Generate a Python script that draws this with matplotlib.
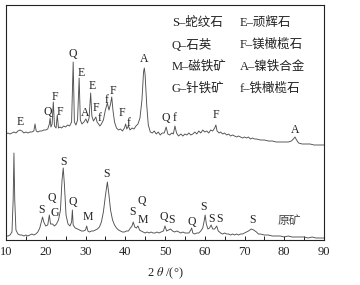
import matplotlib
matplotlib.use('Agg')
import matplotlib.pyplot as plt
from matplotlib.ticker import MultipleLocator

plt.rcParams['font.family'] = ['Liberation Serif', 'Noto Sans CJK SC']
plt.rcParams['mathtext.fontset'] = 'stix'

# 还原焙烧产物 (2θ, 强度)
prod_pattern = [
    (10.0, 106), (10.5, 107), (11.0, 106), (11.5, 107), (12.0, 108), (12.5, 107),
    (13.0, 109), (13.5, 110), (14.0, 109), (14.5, 107), (15.0, 108), (15.5, 107),
    (16.0, 108), (16.5, 108), (17.0, 109), (17.3, 116), (17.6, 109), (18.0, 108),
    (18.5, 109), (19.0, 109), (19.5, 110), (20.0, 110), (20.5, 111), (20.9, 116),
    (21.1, 122), (21.3, 113), (21.6, 116), (21.9, 138), (22.2, 114), (22.6, 112),
    (22.9, 125), (23.2, 112), (23.6, 113), (24.0, 112), (24.5, 114), (25.0, 113),
    (25.5, 115), (26.0, 114), (26.5, 118), (26.9, 178), (27.2, 118), (27.6, 115),
    (28.0, 120), (28.4, 162), (28.7, 120), (29.1, 116), (29.6, 118), (30.1, 121),
    (30.5, 117), (30.9, 122), (31.3, 147), (31.6, 124), (32.0, 119), (32.3, 121),
    (32.6, 123), (32.9, 118), (33.3, 116), (33.6, 114), (34.0, 116), (34.5, 120),
    (35.0, 130), (35.5, 137), (35.9, 130), (36.3, 136), (36.6, 143), (36.9, 130),
    (37.3, 118), (37.8, 112), (38.3, 110), (38.8, 111), (39.3, 109), (39.8, 112),
    (40.1, 116), (40.4, 111), (40.8, 114), (41.2, 110), (41.7, 112), (42.2, 111),
    (42.7, 114), (43.2, 116), (43.7, 122), (44.2, 140), (44.6, 168), (44.8, 172),
    (45.0, 165), (45.4, 135), (45.8, 115), (46.3, 108), (46.8, 107), (47.3, 109),
    (47.8, 106), (48.3, 108), (48.8, 105), (49.3, 107), (49.8, 107), (50.3, 113),
    (50.7, 106), (51.2, 105), (51.7, 107), (52.1, 106), (52.5, 114), (52.9, 107),
    (53.4, 104), (54.0, 106), (54.5, 104), (55.0, 106), (55.5, 105), (56.0, 107),
    (56.5, 105), (57.0, 106), (57.5, 108), (58.0, 106), (58.5, 109), (59.0, 107),
    (59.5, 110), (60.0, 108), (60.5, 109), (61.0, 107), (61.5, 110), (62.0, 109),
    (62.5, 112), (62.8, 115), (63.1, 109), (63.6, 107), (64.0, 108), (64.5, 106),
    (65.0, 107), (65.5, 105), (66.0, 106), (66.5, 104), (67.0, 105), (67.5, 104),
    (68.0, 103), (68.5, 104), (69.0, 103), (69.5, 102), (70.0, 103), (70.5, 102),
    (71.0, 103), (71.5, 101), (72.0, 102), (72.5, 101), (73.0, 101), (74.0, 100),
    (75.0, 100), (76.0, 99), (77.0, 99), (78.0, 98), (79.0, 98), (80.0, 98),
    (81.0, 98), (81.8, 99), (82.3, 101), (82.7, 103), (83.1, 100), (83.6, 97),
    (84.5, 96), (85.5, 96), (86.5, 96), (87.5, 95), (88.5, 95), (90.0, 95),
]

# 原矿 (2θ, 强度)
ore_pattern = [
    (10.0, 4), (10.5, 4), (11.0, 5), (11.5, 8), (11.8, 40), (12.0, 87), (12.2, 40),
    (12.5, 10), (13.0, 6), (13.5, 5), (14.0, 5), (14.5, 4), (15.0, 5), (15.5, 4),
    (16.0, 5), (16.5, 6), (17.0, 5), (17.5, 6), (18.0, 8), (18.5, 12), (19.0, 20),
    (19.2, 23), (19.5, 18), (20.0, 14), (20.5, 15), (20.9, 25), (21.2, 16), (21.7, 16),
    (22.2, 14), (22.7, 16), (23.2, 20), (23.7, 30), (24.1, 60), (24.4, 72), (24.7, 55),
    (25.1, 25), (25.6, 16), (26.1, 14), (26.5, 18), (26.7, 30), (26.9, 15), (27.4, 12),
    (28.0, 11), (28.5, 10), (29.0, 9), (29.5, 9), (30.0, 10), (30.3, 14), (30.6, 9),
    (31.0, 8), (31.5, 9), (32.0, 9), (32.5, 10), (33.0, 11), (33.5, 13), (34.0, 18),
    (34.5, 28), (35.0, 44), (35.5, 58), (35.9, 45), (36.3, 30), (36.8, 20), (37.3, 15),
    (37.8, 12), (38.3, 10), (38.8, 9), (39.3, 8), (39.8, 8), (40.3, 9), (40.8, 9),
    (41.3, 12), (41.7, 14), (42.0, 18), (42.4, 13), (42.8, 12), (43.2, 14), (43.6, 10),
    (44.0, 9), (44.5, 8), (45.0, 7), (45.5, 8), (46.0, 7), (46.5, 8), (47.0, 7),
    (47.5, 7), (48.0, 8), (48.5, 7), (49.0, 8), (49.6, 9), (50.0, 14), (50.4, 9),
    (50.9, 10), (51.4, 11), (51.9, 9), (52.4, 8), (53.0, 9), (53.5, 8), (54.0, 7),
    (54.5, 8), (55.0, 7), (55.5, 7), (56.0, 7), (56.5, 10), (56.7, 12), (57.0, 7),
    (57.5, 6), (58.0, 7), (58.5, 7), (59.0, 9), (59.5, 12), (59.9, 20), (60.1, 25),
    (60.4, 16), (60.8, 11), (61.2, 12), (61.6, 15), (62.0, 11), (62.5, 11), (63.0, 14),
    (63.4, 9), (64.0, 7), (64.5, 6), (65.0, 7), (65.5, 6), (66.0, 6), (66.5, 5),
    (67.0, 6), (67.5, 5), (68.0, 6), (68.5, 5), (69.0, 6), (69.5, 6), (70.0, 7),
    (70.5, 8), (71.0, 9), (71.7, 11), (72.3, 10), (73.0, 8), (73.5, 6), (74.0, 6),
    (75.0, 5), (76.0, 5), (77.0, 4), (78.0, 4), (79.0, 4), (80.0, 3), (81.0, 4),
    (82.0, 3), (83.0, 3), (84.0, 3), (85.0, 3), (86.0, 2), (87.0, 3), (88.0, 2),
    (89.0, 2), (90.0, 2),
]

# 物相标注 (符号, 2θ, 高度)
prod_marks = [
    ('E', 13.7, 118), ('Q', 20.5, 128), ('F', 22.2, 143), ('F', 23.6, 128),
    ('Q', 26.9, 186), ('E', 28.9, 167), ('A', 29.9, 127), ('E', 31.6, 154),
    ('F', 32.6, 132), ('f', 33.5, 122), ('f', 35.3, 140), ('F', 36.8, 149),
    ('F', 39.1, 127), ('f', 40.8, 117), ('A', 44.7, 181), ('Q', 50.2, 122),
    ('f', 52.5, 122), ('F', 62.8, 125), ('A', 82.7, 110),
]
ore_marks = [
    ('S', 19.0, 30), ('Q', 21.5, 42), ('G', 22.2, 27), ('S', 24.4, 78),
    ('Q', 26.7, 38), ('M', 30.7, 23), ('S', 35.3, 66), ('S', 41.9, 28),
    ('Q', 44.1, 39), ('M', 44.4, 20), ('Q', 49.8, 23), ('S', 51.7, 20),
    ('Q', 56.7, 18), ('S', 59.8, 33), ('S', 61.7, 21), ('S', 63.8, 21),
    ('S', 72.1, 20),
]
ore_name = '原矿'

legend_left = ['S–蛇纹石', 'Q–石英', 'M–磁铁矿', 'G–针铁矿']
legend_right = ['E–顽辉石', 'F–镁橄榄石', 'A–镍铁合金', 'f–铁橄榄石']

fig = plt.figure(figsize=(3.6, 2.85), dpi=100)
ax = fig.add_axes([6 / 360, 1 - 240 / 285, 318 / 360, 235 / 285])

tt, inten = zip(*prod_pattern)
ax.plot(tt, inten, color='#505050', linewidth=0.65)
tt, inten = zip(*ore_pattern)
ax.plot(tt, inten, color='#505050', linewidth=0.65)

for s, x, y in prod_marks + ore_marks:
    ax.text(x, y, s, ha='center', va='center', fontsize=8.5, color='#222222')
ax.text(81.4, 19, ore_name, ha='center', va='center', fontsize=8.5, color='#444444')

# 图例文字 (两列)
rows = [0.922, 0.829, 0.736, 0.644]
for txt, y in zip(legend_left, rows):
    ax.text(0.522, y, txt, transform=ax.transAxes, ha='left', va='center',
            fontsize=9, color='#222222')
for txt, y in zip(legend_right, rows):
    ax.text(0.736, y, txt, transform=ax.transAxes, ha='left', va='center',
            fontsize=9, color='#222222')

ax.set_xlim(10, 90)
ax.set_ylim(0, 235)
ax.xaxis.set_major_locator(MultipleLocator(10))
ax.xaxis.set_minor_locator(MultipleLocator(5))
ax.tick_params(axis='x', which='both', direction='in', length=3, width=0.7,
               labelsize=9, pad=4, colors='#222222')
ax.set_yticks([])
for sp in ax.spines.values():
    sp.set_linewidth(0.8)
    sp.set_color('#222222')
ax.set_xlabel('2 $\\it{\\theta}$ /(°)', fontsize=9, labelpad=6, color='#222222')

fig.savefig('out.png', dpi=100)
